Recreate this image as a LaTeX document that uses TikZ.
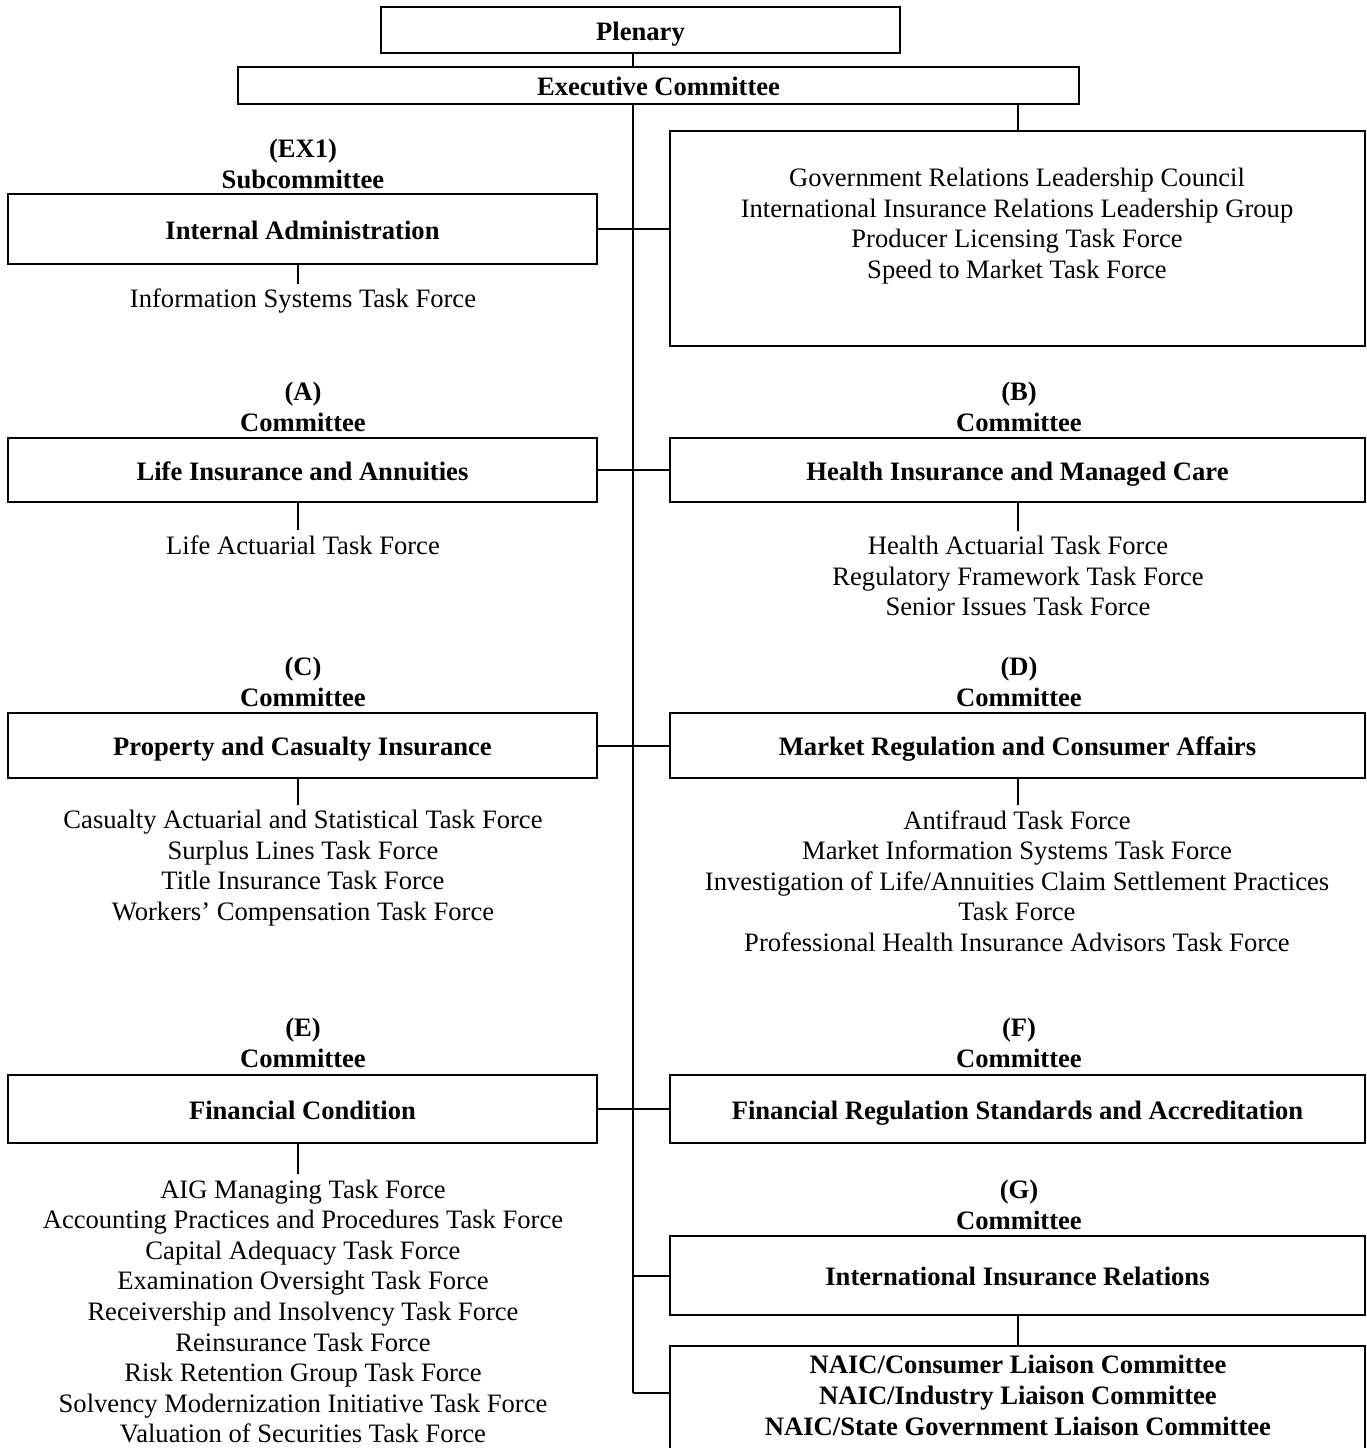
\documentclass[tikz,border=0pt]{standalone}
\usepackage{fontspec}
\setmainfont{Liberation Serif}
\begin{document}
\begin{tikzpicture}
    [
      x=1pt,y=-1pt,
      every node/.style={font=\fontsize{26.6}{30.6}\selectfont},
      box/.style={draw,line width=2pt,rectangle,inner sep=0pt,
        font=\fontsize{26.6}{30.6}\selectfont\bfseries,text height=20pt,text depth=0pt},
      lbox/.style={box,minimum width=589pt},
      rbox/.style={box,minimum width=695pt},
      head/.style={align=center,inner sep=0pt,font=\fontsize{26.6}{31}\selectfont\bfseries},
      tf/.style={align=center,inner sep=5pt},
      conn/.style={line width=2pt}
    ]

    \useasboundingbox (0,0) rectangle (1367,1448);
    \clip (0,0) rectangle (1367,1448);

    \node at (640.5,30) [box,minimum width=519pt,minimum height=46pt] (plenary) {Plenary};
    \node at (658.5,85.5) [box,minimum width=841pt,minimum height=37pt] (exec) {Executive Committee};

    \node at (303,163.5) [head] (hdrex) {(EX1)\\Subcommittee};
    \node at (302.5,229) [lbox,minimum height=70pt] (intadm) {Internal Administration};
    \node at (303,301) [tf] (intadmtf) {Information Systems Task Force};

    \node at (1017.5,238.5) [rbox,minimum height=215pt] (lead) {};
    \node at (1017,226) [tf] (leadtf) {Government Relations Leadership Council\\
      International Insurance Relations Leadership Group\\
      Producer Licensing Task Force\\
      Speed to Market Task Force};

    \node at (303,407) [head] (hdra) {(A)\\Committee};
    \node at (302.5,470) [lbox,minimum height=64pt] (life) {Life Insurance and Annuities};
    \node at (303,545) [tf] (lifetf) {Life Actuarial Task Force};

    \node at (1019,407) [head] (hdrb) {(B)\\Committee};
    \node at (1017.5,470) [rbox,minimum height=64pt] (health) {Health Insurance and Managed Care};
    \node at (1018,576) [tf] (healthtf) {Health Actuarial Task Force\\
      Regulatory Framework Task Force\\
      Senior Issues Task Force};

    \node at (303,682) [head] (hdrc) {(C)\\Committee};
    \node at (302.5,745.5) [lbox,minimum height=65pt] (propcas) {Property and Casualty Insurance};
    \node at (303,868) [tf] (propcastf) {Casualty Actuarial and Statistical Task Force\\
      Surplus Lines Task Force\\
      Title Insurance Task Force\\
      Workers’ Compensation Task Force};

    \node at (1019,682) [head] (hdrd) {(D)\\Committee};
    \node at (1017.5,745.5) [rbox,minimum height=65pt] (market) {Market Regulation and Consumer Affairs};
    \node at (1017,881) [tf] (markettf) {Antifraud Task Force\\
      Market Information Systems Task Force\\
      Investigation of Life/Annuities Claim Settlement Practices\\
      Task Force\\
      Professional Health Insurance Advisors Task Force};

    \node at (303,1043) [head] (hdre) {(E)\\Committee};
    \node at (302.5,1109) [lbox,minimum height=68pt] (fincond) {Financial Condition};
    \node at (303,1311.5) [tf] (fincondtf) {AIG Managing Task Force\\
      Accounting Practices and Procedures Task Force\\
      Capital Adequacy Task Force\\
      Examination Oversight Task Force\\
      Receivership and Insolvency Task Force\\
      Reinsurance Task Force\\
      Risk Retention Group Task Force\\
      Solvency Modernization Initiative Task Force\\
      Valuation of Securities Task Force};

    \node at (1019,1043) [head] (hdrf) {(F)\\Committee};
    \node at (1017.5,1109) [rbox,minimum height=68pt] (finreg) {Financial Regulation Standards and Accreditation};

    \node at (1019,1205) [head] (hdrg) {(G)\\Committee};
    \node at (1017.5,1275.5) [rbox,minimum height=79pt] (intl) {International Insurance Relations};

    \node at (1017.5,1408) [rbox,minimum height=124pt] (naic) {};
    \node at (1018,1395) [head] (naictxt) {NAIC/Consumer Liaison Committee\\
      NAIC/Industry Liaison Committee\\
      NAIC/State Government Liaison Committee};

    \coordinate (trunktop) at (633,53);
    \coordinate (trunkend) at (633,1393);

    \draw [conn] (plenary.south -| trunktop) -- (exec.north -| trunktop);
    \draw [conn] (exec.south -| trunktop) -- (trunkend);
    \draw [conn] (exec.south -| lead.north) -- (lead.north);

    \draw [conn] (intadm.east) -- (intadm.east -| lead.west);
    \draw [conn] (life.east) -- (health.west);
    \draw [conn] (propcas.east) -- (market.west);
    \draw [conn] (fincond.east) -- (finreg.west);
    \draw [conn] (intl.west -| trunktop) -- (intl.west);
    \draw [conn] (trunkend) -- (trunkend -| naic.west);
    \draw [conn] (intl.south) -- (naic.north);

    \draw [conn] ([xshift=-5pt]intadm.south) -- ([xshift=-5pt]intadm.south |- intadmtf.north);
    \draw [conn] ([xshift=-5pt]life.south) -- ([xshift=-5pt]life.south |- lifetf.north);
    \draw [conn] (health.south) -- (health.south |- healthtf.north);
    \draw [conn] ([xshift=-5pt]propcas.south) -- ([xshift=-5pt]propcas.south |- propcastf.north);
    \draw [conn] (market.south) -- (market.south |- markettf.north);
    \draw [conn] ([xshift=-5pt]fincond.south) -- ([xshift=-5pt]fincond.south |- fincondtf.north);
  \end{tikzpicture}
\end{document}
